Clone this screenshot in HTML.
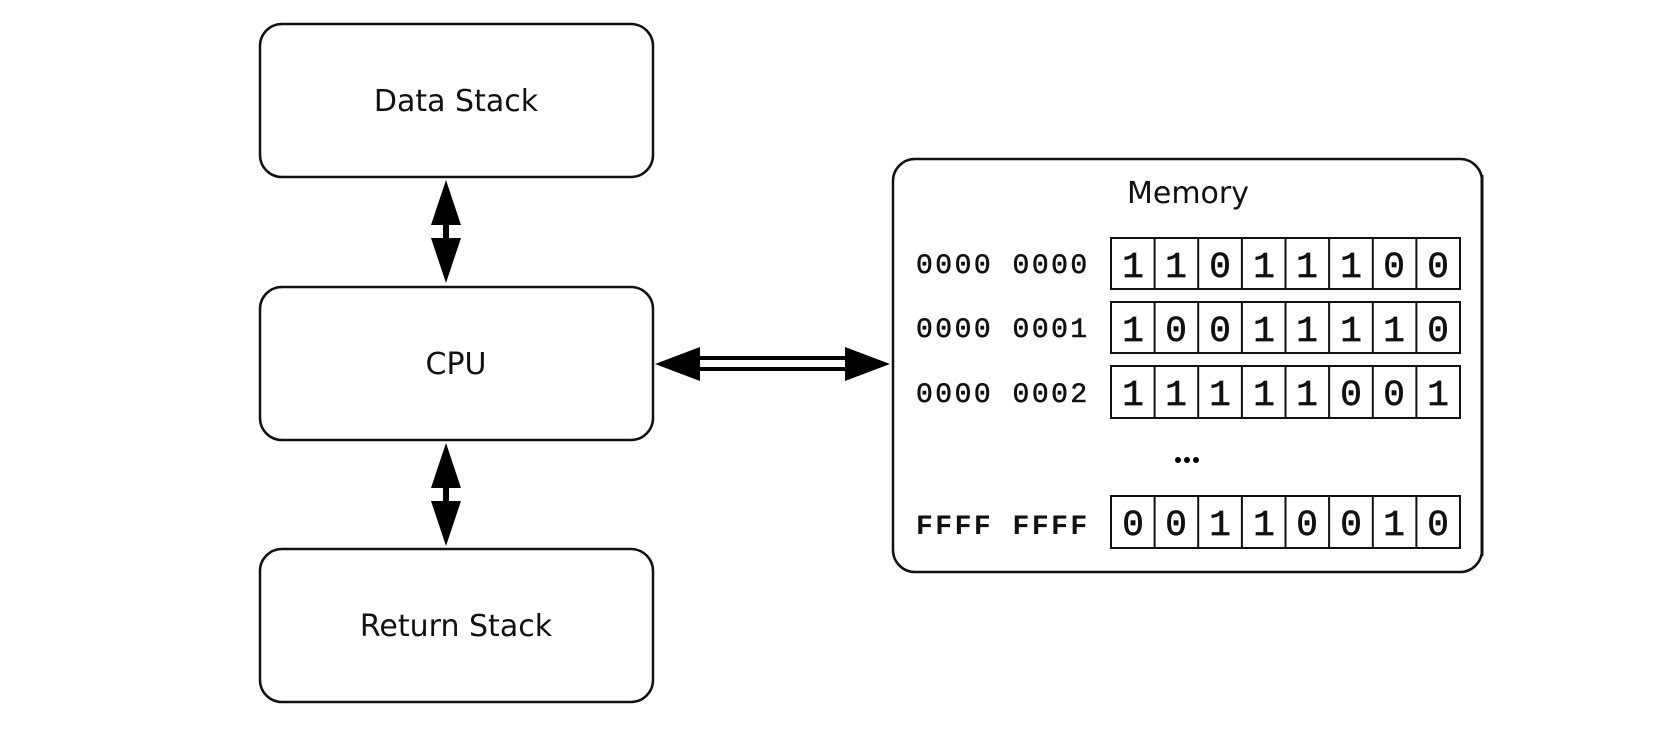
<!DOCTYPE html>
<html><head><style>
html,body{margin:0;padding:0;background:#fff;}
body{width:1678px;height:728px;position:relative;overflow:hidden;}
</style></head><body>
<svg width="1678" height="728" viewBox="0 0 1678 728" xmlns="http://www.w3.org/2000/svg">
<g fill="#fff" stroke="#111" stroke-width="2.5">
<rect x="260" y="24" width="393" height="153" rx="22"/>
<rect x="260" y="287" width="393" height="153" rx="22"/>
<rect x="260" y="549" width="393" height="153" rx="22"/>
<rect x="893" y="159" width="589" height="413" rx="22"/>
</g>
<line x1="1482" y1="175" x2="1482" y2="556" stroke="#111" stroke-width="3"/>
<g font-family="'DejaVu Sans','Liberation Sans',sans-serif" font-size="30" fill="#111" text-anchor="middle">
<text x="456" y="111">Data Stack</text>
<text x="456" y="374">CPU</text>
<text x="456" y="636">Return Stack</text>
<text x="1188" y="203">Memory</text>
</g>
<g fill="#000">
<polygon points="446,180 431,225 461,225"/>
<polygon points="446,283 431,238 461,238"/>
<rect x="443" y="224" width="6" height="15"/>
<polygon points="446,443 431,488 461,488"/>
<polygon points="446,546 431,501 461,501"/>
<rect x="443" y="487" width="6" height="15"/>
<polygon points="655,364 700,347 700,381"/>
<polygon points="890,364 845,347 845,381"/>
<rect x="698" y="356" width="150" height="4"/>
<rect x="698" y="367" width="150" height="4"/>
<circle cx="1178" cy="460" r="3"/>
<circle cx="1187" cy="460" r="3"/>
<circle cx="1196" cy="460" r="3"/>
</g>
<g font-family="'Liberation Mono',monospace" font-size="28" fill="#111" stroke="#111" stroke-width="0.6" letter-spacing="2.5">
<text x="916" y="273">0000 0000</text>
<text x="916" y="337">0000 0001</text>
<text x="916" y="402">0000 0002</text>
<text x="916" y="534" font-weight="bold" stroke-width="0">FFFF FFFF</text>
</g>
<g fill="none" stroke="#111" stroke-width="2">
<rect x="1111" y="238" width="349" height="51"/>
<rect x="1111" y="302" width="349" height="51"/>
<rect x="1111" y="366" width="349" height="52"/>
<rect x="1111" y="496" width="349" height="52"/>
<path d="M1154.6 238V289M1198.2 238V289M1241.9 238V289M1285.5 238V289M1329.1 238V289M1372.8 238V289M1416.4 238V289
M1154.6 302V353M1198.2 302V353M1241.9 302V353M1285.5 302V353M1329.1 302V353M1372.8 302V353M1416.4 302V353
M1154.6 366V418M1198.2 366V418M1241.9 366V418M1285.5 366V418M1329.1 366V418M1372.8 366V418M1416.4 366V418
M1154.6 496V548M1198.2 496V548M1241.9 496V548M1285.5 496V548M1329.1 496V548M1372.8 496V548M1416.4 496V548"/>
</g>
<g font-family="'Liberation Mono',monospace" font-size="36" fill="#111" text-anchor="middle" stroke="#111" stroke-width="0.7">
<text y="277"><tspan x="1133">1</tspan><tspan x="1176">1</tspan><tspan x="1220">0</tspan><tspan x="1264">1</tspan><tspan x="1307">1</tspan><tspan x="1351">1</tspan><tspan x="1394">0</tspan><tspan x="1438">0</tspan></text>
<text y="341"><tspan x="1133">1</tspan><tspan x="1176">0</tspan><tspan x="1220">0</tspan><tspan x="1264">1</tspan><tspan x="1307">1</tspan><tspan x="1351">1</tspan><tspan x="1394">1</tspan><tspan x="1438">0</tspan></text>
<text y="405"><tspan x="1133">1</tspan><tspan x="1176">1</tspan><tspan x="1220">1</tspan><tspan x="1264">1</tspan><tspan x="1307">1</tspan><tspan x="1351">0</tspan><tspan x="1394">0</tspan><tspan x="1438">1</tspan></text>
<text y="535"><tspan x="1133">0</tspan><tspan x="1176">0</tspan><tspan x="1220">1</tspan><tspan x="1264">1</tspan><tspan x="1307">0</tspan><tspan x="1351">0</tspan><tspan x="1394">1</tspan><tspan x="1438">0</tspan></text>
</g>
</svg>
</body></html>
